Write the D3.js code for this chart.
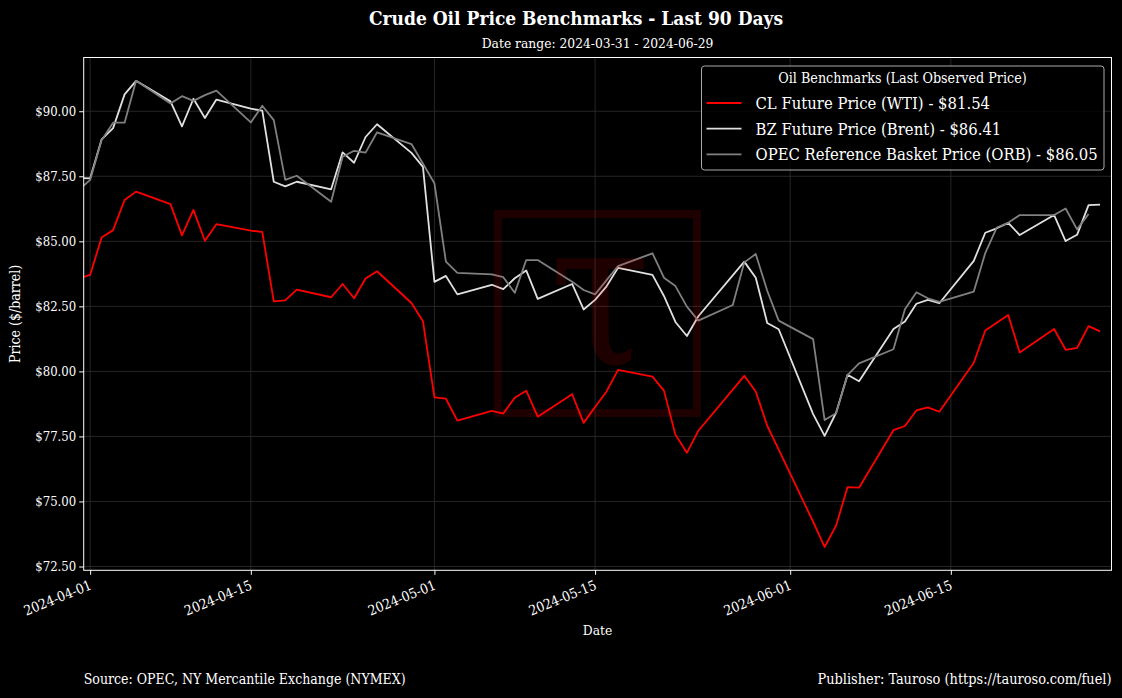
<!DOCTYPE html>
<html>
<head>
<meta charset="utf-8">
<script src="https://cdn.jsdelivr.net/npm/d3@7"></script>
<style>
  body { margin: 0; background: #000; }
  text { font-family: "DejaVu Serif Condensed", "DejaVu Serif", serif; font-stretch: condensed; fill: #fff; }
</style>
</head>
<body>
<div id="chart"></div>
<script>
// trading days shown in the chart (first one sits just left of the visible range)
var dates = ["2024-03-28",
  "2024-04-01","2024-04-02","2024-04-03","2024-04-04","2024-04-05",
  "2024-04-08","2024-04-09","2024-04-10","2024-04-11","2024-04-12",
  "2024-04-15","2024-04-16","2024-04-17","2024-04-18","2024-04-19",
  "2024-04-22","2024-04-23","2024-04-24","2024-04-25","2024-04-26",
  "2024-04-29","2024-04-30","2024-05-01","2024-05-02","2024-05-03",
  "2024-05-06","2024-05-07","2024-05-08","2024-05-09","2024-05-10",
  "2024-05-13","2024-05-14","2024-05-15","2024-05-16","2024-05-17",
  "2024-05-20","2024-05-21","2024-05-22","2024-05-23","2024-05-24",
  "2024-05-27","2024-05-28","2024-05-29","2024-05-30","2024-05-31",
  "2024-06-03","2024-06-04","2024-06-05","2024-06-06","2024-06-07",
  "2024-06-10","2024-06-11","2024-06-12","2024-06-13","2024-06-14",
  "2024-06-17","2024-06-18","2024-06-19","2024-06-20","2024-06-21",
  "2024-06-24","2024-06-25","2024-06-26","2024-06-27","2024-06-28"];

var wti = [83.17,
  83.71, 85.15, 85.43, 86.59, 86.91,
  86.43, 85.23, 86.21, 85.02, 85.66,
  85.41, 85.36, 82.69, 82.73, 83.14,
  82.85, 83.36, 82.81, 83.57, 83.85,
  82.63, 81.93, 79.00, 78.95, 78.11,
  78.48, 78.38, 78.99, 79.26, 78.26,
  79.12, 78.02, 78.63, 79.23, 80.06,
  79.80, 79.26, 77.57, 76.87, 77.72,
  null, 79.83, 79.23, 77.91, 76.99,
  74.22, 73.25, 74.07, 75.55, 75.53,
  77.74, 77.90, 78.50, 78.62, 78.45,
  80.33, 81.57, null, 82.17, 80.73,
  81.63, 80.83, 80.90, 81.74, 81.54];

var brent = [87.48,
  87.42, 88.92, 89.35, 90.65, 91.17,
  90.38, 89.42, 90.48, 89.74, 90.45,
  90.10, 90.02, 87.29, 87.11, 87.29,
  87.00, 88.42, 88.02, 89.01, 89.50,
  88.40, 87.86, 83.44, 83.67, 82.96,
  83.33, 83.16, 83.58, 83.88, 82.79,
  83.36, 82.38, 82.75, 83.27, 83.98,
  83.71, 82.90, 81.90, 81.36, 82.12,
  null, 84.22, 83.60, 81.86, 81.62,
  78.36, 77.52, 78.41, 79.87, 79.62,
  81.63, 81.92, 82.60, 82.75, 82.62,
  84.25, 85.33, 85.50, 85.71, 85.24,
  86.01, 85.01, 85.25, 86.39, 86.41];

var orb = [85.80,
  87.36, 88.89, 89.56, 89.56, 91.17,
  90.30, 90.58, 90.40, 90.62, 90.79,
  89.57, 90.21, 89.66, 87.36, 87.52,
  86.52, 88.25, 88.48, 88.41, 89.19,
  88.74, null, 87.23, 84.22, 83.79,
  83.73, 83.62, 83.02, 84.28, 84.28,
  83.45, 83.13, 82.96, 83.51, 84.05,
  84.54, 83.60, 83.28, 82.49, 81.95,
  82.55, 84.19, 84.51, 83.10, 81.95,
  81.24, 78.13, 78.39, 79.86, 80.31,
  80.85, 82.39, 83.04, 82.81, 82.67,
  83.07, 84.55, 85.53, 85.71, 86.01,
  86.01, 86.26, 85.46, 86.05, null];

var seriesNames = ["CL Future Price (WTI)", "BZ Future Price (Brent)", "OPEC Reference Basket Price (ORB)"];
var seriesColors = ["#ff0000", "#e0e0e0", "#808080"];
var yTicks = [72.5, 75, 77.5, 80, 82.5, 85, 87.5, 90];
var xTicks = ["2024-04-01", "2024-04-15", "2024-05-01", "2024-05-15", "2024-06-01", "2024-06-15"];

var W = 1122, H = 698,
    margin = { top: 57.5, right: 10.5, bottom: 127.7, left: 83.7 },
    width = W - margin.left - margin.right,
    height = H - margin.top - margin.bottom;

var parse = d3.utcParse("%Y-%m-%d");
var series = [wti, brent, orb].map(function (vals, k) {
  var pts = [];
  vals.forEach(function (v, i) { if (v != null) pts.push({ date: parse(dates[i]), value: v }); });
  return { name: seriesNames[k], color: seriesColors[k], points: pts, last: pts[pts.length - 1].value };
});

var svg = d3.select("#chart").append("svg")
    .attr("width", W).attr("height", H)
    .style("background", "#000");

var g = svg.append("g").attr("transform", "translate(" + margin.left + "," + margin.top + ")");

var x = d3.scaleUtc()
    .domain([new Date("2024-03-31T10:30:00Z"), new Date("2024-06-29T00:00:00Z")])
    .range([0, width]);

var allVals = [].concat(wti, brent, orb).filter(function (v) { return v != null; });
var lo = d3.min(allVals), hi = d3.max(allVals), pad = (hi - lo) * 0.05;
var y = d3.scaleLinear().domain([lo - pad, hi + pad]).range([height, 0]);

// grid
g.append("g").selectAll("line").data(yTicks).enter().append("line")
    .attr("x1", 0).attr("x2", width)
    .attr("y1", function (d) { return y(d); }).attr("y2", function (d) { return y(d); })
    .attr("stroke", "#2e2e2e").attr("stroke-width", 0.8);
g.append("g").selectAll("line").data(xTicks).enter().append("line")
    .attr("y1", 0).attr("y2", height)
    .attr("x1", function (d) { return x(parse(d)); }).attr("x2", function (d) { return x(parse(d)); })
    .attr("stroke", "#2e2e2e").attr("stroke-width", 0.8);

g.append("clipPath").attr("id", "clip").append("rect").attr("width", width).attr("height", height);

var line = d3.line()
    .x(function (d) { return x(d.date); })
    .y(function (d) { return y(d.value); });

g.append("g").attr("clip-path", "url(#clip)")
  .selectAll("path").data(series).enter().append("path")
    .attr("d", function (d) { return line(d.points); })
    .attr("fill", "none")
    .attr("stroke", function (d) { return d.color; })
    .attr("stroke-width", 1.8)
    .attr("stroke-linejoin", "round");

// watermark logo
var wm = g.append("g").attr("opacity", 0.12);
wm.append("rect")
    .attr("x", 494 - margin.left + 4).attr("y", 210 - margin.top + 4)
    .attr("width", 199).attr("height", 199)
    .attr("fill", "none").attr("stroke", "#ff0000").attr("stroke-width", 8);
wm.append("text")
    .attr("x", 600 - margin.left).attr("y", 364 - margin.top)
    .attr("text-anchor", "middle")
    .style("font-family", "DejaVu Serif")
    .style("font-size", "205px")
    .style("fill", "#ff0000")
    .text("τ");

// axes
var yAxis = g.append("g")
    .call(d3.axisLeft(y).tickValues(yTicks).tickSize(4.5).tickPadding(3)
      .tickFormat(function (d) { return "$" + d.toFixed(2); }));
yAxis.select(".domain").remove();
yAxis.selectAll("line").attr("stroke", "#fff");
yAxis.selectAll("text").style("font-size", "13px").style("fill", "#fff");

var xAxis = g.append("g").attr("transform", "translate(0," + height + ")")
    .call(d3.axisBottom(x).tickValues(xTicks.map(parse)).tickSize(4.5)
      .tickFormat(d3.utcFormat("%Y-%m-%d")));
xAxis.select(".domain").remove();
xAxis.selectAll("line").attr("stroke", "#fff");
xAxis.selectAll("text")
    .style("font-size", "13.8px").style("fill", "#fff")
    .attr("text-anchor", "end")
    .attr("y", 0).attr("dy", "0.75em")
    .attr("transform", "translate(-2,9) rotate(-22)");

g.append("rect").attr("width", width).attr("height", height)
    .attr("fill", "none").attr("stroke", "#fff").attr("stroke-width", 1);

// labels
svg.append("text").attr("x", 576).attr("y", 25)
    .attr("text-anchor", "middle")
    .style("font-size", "19px").style("font-weight", "bold")
    .text("Crude Oil Price Benchmarks - Last 90 Days");
svg.append("text").attr("x", margin.left + width / 2).attr("y", 48)
    .attr("text-anchor", "middle").style("font-size", "13.7px")
    .text("Date range: 2024-03-31 - 2024-06-29");
svg.append("text").attr("x", margin.left + width / 2).attr("y", 635)
    .attr("text-anchor", "middle").style("font-size", "13.7px")
    .text("Date");
svg.append("text")
    .attr("transform", "translate(20," + (margin.top + height / 2) + ") rotate(-90)")
    .attr("text-anchor", "middle").style("font-size", "14px")
    .text("Price ($/barrel)");
svg.append("text").attr("x", margin.left).attr("y", 684)
    .style("font-size", "14px")
    .text("Source: OPEC, NY Mercantile Exchange (NYMEX)");
svg.append("text").attr("x", margin.left + width).attr("y", 684)
    .attr("text-anchor", "end").style("font-size", "14.4px")
    .text("Publisher: Tauroso (https://tauroso.com/fuel)");

// legend
var lg = svg.append("g").attr("transform", "translate(701.5,66)");
lg.append("rect").attr("width", 402.5).attr("height", 104).attr("rx", 3)
    .attr("fill", "#000").attr("fill-opacity", 0.8)
    .attr("stroke", "#aaa").attr("stroke-width", 1);
lg.append("text").attr("x", 201).attr("y", 17)
    .attr("text-anchor", "middle").style("font-size", "14.2px")
    .text("Oil Benchmarks (Last Observed Price)");
var items = lg.selectAll(".item").data(series).enter().append("g")
    .attr("class", "item")
    .attr("transform", function (d, i) { return "translate(0," + (37 + i * 25.7) + ")"; });
items.append("line").attr("x1", 5).attr("x2", 40)
    .attr("stroke", function (d) { return d.color; }).attr("stroke-width", 1.8);
items.append("text").attr("x", 54).attr("dy", "0.36em")
    .style("font-size", "16.5px")
    .text(function (d) { return d.name + " - $" + d.last.toFixed(2); });
</script>
</body>
</html>
